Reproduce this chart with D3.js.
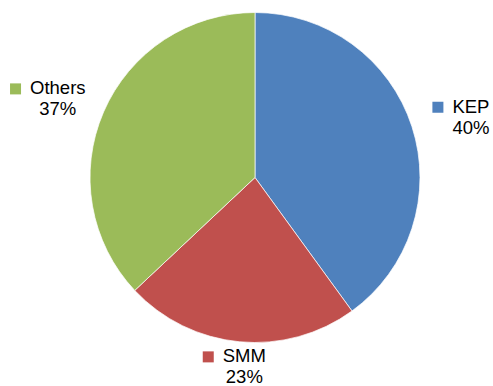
<!DOCTYPE html>
<html>
<head>
<meta charset="utf-8">
<script src="https://cdn.jsdelivr.net/npm/d3@7"></script>
<style>
  html, body { margin: 0; padding: 0; background: #fff; }
  svg { display: block; }
  text { font-family: "Liberation Sans", Arial, sans-serif; font-size: 18.5px; fill: #000; }
</style>
</head>
<body>
<svg id="chart" width="493" height="386"></svg>
<script>
// Market share by company
const categories = ["KEP", "SMM", "Others"];
const shares = [40, 23, 37];
const colors = ["#4F81BD", "#C0504D", "#9BBB59"];

const W = 493, H = 386;
const cx = 255, cy = 177.5, radius = 165;

const svg = d3.select("#chart");
const g = svg.append("g").attr("transform", `translate(${cx},${cy})`);

const pie = d3.pie().sort(null).value(d => d.value);
const arcs = pie(categories.map((c, i) => ({ name: c, value: shares[i], color: colors[i] })));
const arc = d3.arc().innerRadius(0).outerRadius(radius);

g.selectAll("path.slice")
  .data(arcs)
  .join("path")
  .attr("class", "slice")
  .attr("d", arc)
  .attr("fill", d => d.data.color)
  .attr("stroke", "#ffffff")
  .attr("stroke-opacity", 0.7)
  .attr("stroke-width", 1);

// Outside-end labels: legend key + category name, percentage centred below
const keySize = 11, keyGap = 9, lineH = 21, fontPx = 18.5;
const pad = 23, dropY = 5;

arcs.forEach(d => {
  const mid = (d.startAngle + d.endAngle) / 2;
  const ux = Math.sin(mid), uy = -Math.cos(mid);

  const lg = svg.append("g");
  const name = lg.append("text").text(d.data.name).attr("x", keySize + keyGap).attr("y", 0);
  const pct = lg.append("text").text(d.data.value + "%");
  const nameW = name.node().getComputedTextLength();
  const pctW = pct.node().getComputedTextLength();
  const textCenter = keySize + keyGap + nameW / 2;
  pct.attr("x", textCenter - pctW / 2).attr("y", lineH);
  lg.insert("rect", "text")
    .attr("x", 0).attr("y", -keySize)
    .attr("width", keySize).attr("height", keySize)
    .attr("fill", d.data.color);

  // box extents relative to group origin (baseline of first line)
  const bw = keySize + keyGap + nameW;
  const top = -fontPx * 0.8, bottom = lineH + fontPx * 0.25;
  const bh = bottom - top;

  const ax = cx + ux * (radius + pad);
  const ay = cy + uy * (radius + pad);
  let bx = ax + ux * bw / 2 - bw / 2;
  let by = ay + uy * bh / 2 - bh / 2 + dropY;
  bx = Math.max(2, Math.min(W - bw - 2, bx));
  by = Math.max(0, Math.min(H - bh + 2, by));
  lg.attr("transform", `translate(${bx},${by - top})`);
});
</script>
</body>
</html>
